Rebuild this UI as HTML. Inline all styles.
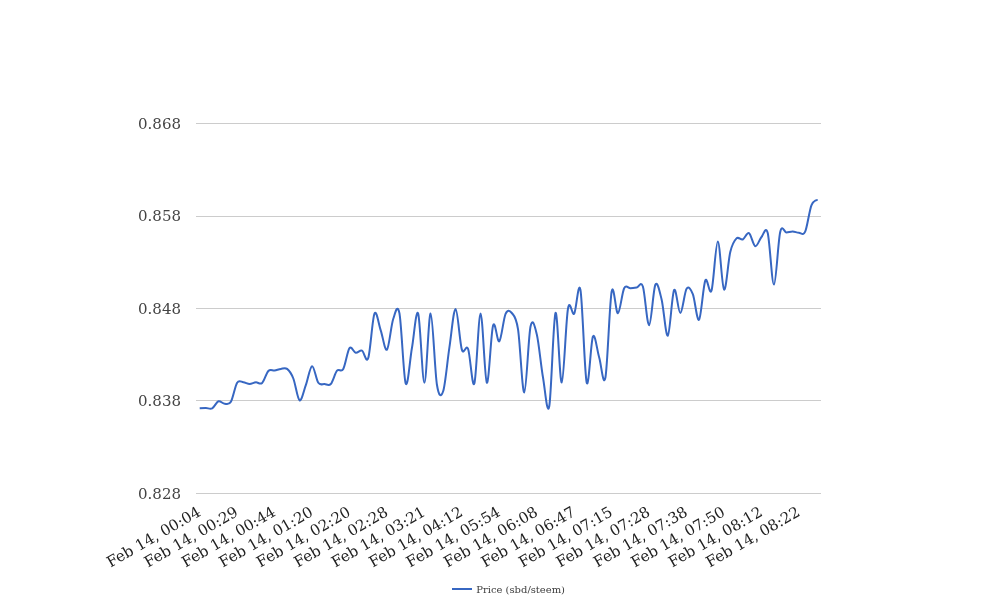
<!DOCTYPE html><html><head><meta charset="utf-8"><title>Price chart</title><style>html,body{margin:0;padding:0;background:#fff}svg{display:block}text{font-family:"DejaVu Serif","Liberation Serif",serif}</style></head><body>
<svg width="1008" height="616" viewBox="0 0 1008 616">
<rect width="1008" height="616" fill="#ffffff"/>
<rect x="196" y="123" width="625" height="1" fill="#cccccc"/>
<rect x="196" y="216" width="625" height="1" fill="#cccccc"/>
<rect x="196" y="308" width="625" height="1" fill="#cccccc"/>
<rect x="196" y="400" width="625" height="1" fill="#cccccc"/>
<rect x="196" y="493" width="625" height="1" fill="#cccccc"/>
<text x="181" y="129.25" text-anchor="end" font-size="15" fill="#444444">0.868</text>
<text x="181" y="221.25" text-anchor="end" font-size="15" fill="#444444">0.858</text>
<text x="181" y="314.25" text-anchor="end" font-size="15" fill="#444444">0.848</text>
<text x="181" y="406.25" text-anchor="end" font-size="15" fill="#444444">0.838</text>
<text x="181" y="499.25" text-anchor="end" font-size="15" fill="#444444">0.828</text>
<text x="201.72" y="515.0" text-anchor="end" font-size="15.1" fill="#222222" transform="rotate(-30 201.72 515.0)">Feb 14, 00:04</text>
<text x="239.18" y="515.0" text-anchor="end" font-size="15.1" fill="#222222" transform="rotate(-30 239.18 515.0)">Feb 14, 00:29</text>
<text x="276.63" y="515.0" text-anchor="end" font-size="15.1" fill="#222222" transform="rotate(-30 276.63 515.0)">Feb 14, 00:44</text>
<text x="314.08" y="515.0" text-anchor="end" font-size="15.1" fill="#222222" transform="rotate(-30 314.08 515.0)">Feb 14, 01:20</text>
<text x="351.53" y="515.0" text-anchor="end" font-size="15.1" fill="#222222" transform="rotate(-30 351.53 515.0)">Feb 14, 02:20</text>
<text x="388.98" y="515.0" text-anchor="end" font-size="15.1" fill="#222222" transform="rotate(-30 388.98 515.0)">Feb 14, 02:28</text>
<text x="426.44" y="515.0" text-anchor="end" font-size="15.1" fill="#222222" transform="rotate(-30 426.44 515.0)">Feb 14, 03:21</text>
<text x="463.89" y="515.0" text-anchor="end" font-size="15.1" fill="#222222" transform="rotate(-30 463.89 515.0)">Feb 14, 04:12</text>
<text x="501.34" y="515.0" text-anchor="end" font-size="15.1" fill="#222222" transform="rotate(-30 501.34 515.0)">Feb 14, 05:54</text>
<text x="538.79" y="515.0" text-anchor="end" font-size="15.1" fill="#222222" transform="rotate(-30 538.79 515.0)">Feb 14, 06:08</text>
<text x="576.25" y="515.0" text-anchor="end" font-size="15.1" fill="#222222" transform="rotate(-30 576.25 515.0)">Feb 14, 06:47</text>
<text x="613.70" y="515.0" text-anchor="end" font-size="15.1" fill="#222222" transform="rotate(-30 613.70 515.0)">Feb 14, 07:15</text>
<text x="651.15" y="515.0" text-anchor="end" font-size="15.1" fill="#222222" transform="rotate(-30 651.15 515.0)">Feb 14, 07:28</text>
<text x="688.60" y="515.0" text-anchor="end" font-size="15.1" fill="#222222" transform="rotate(-30 688.60 515.0)">Feb 14, 07:38</text>
<text x="726.05" y="515.0" text-anchor="end" font-size="15.1" fill="#222222" transform="rotate(-30 726.05 515.0)">Feb 14, 07:50</text>
<text x="763.50" y="515.0" text-anchor="end" font-size="15.1" fill="#222222" transform="rotate(-30 763.50 515.0)">Feb 14, 08:12</text>
<text x="800.96" y="515.0" text-anchor="end" font-size="15.1" fill="#222222" transform="rotate(-30 800.96 515.0)">Feb 14, 08:22</text>
<path d="M199.70,408.20C199.70,408.20,203.86,407.97,205.94,408.00C208.02,408.03,210.10,409.52,212.18,408.40C214.26,407.28,216.35,402.07,218.43,401.30C220.51,400.53,222.59,403.72,224.67,403.80C226.75,403.88,228.83,405.32,230.91,401.80C232.99,398.28,235.07,385.95,237.15,382.70C239.23,379.45,241.31,382.08,243.39,382.30C245.47,382.52,247.56,384.00,249.64,384.00C251.72,384.00,253.80,382.47,255.88,382.30C257.96,382.13,260.04,384.88,262.12,383.00C264.20,381.12,266.28,373.08,268.36,371.00C270.44,368.92,272.52,370.85,274.60,370.50C276.68,370.15,278.77,369.17,280.85,368.90C282.93,368.63,285.01,367.30,287.09,368.90C289.17,370.50,291.25,373.27,293.33,378.50C295.41,383.73,297.49,399.18,299.57,400.30C301.65,401.42,303.73,390.88,305.81,385.20C307.89,379.52,309.98,366.60,312.06,366.20C314.14,365.80,316.22,379.83,318.30,382.80C320.38,385.77,322.46,383.80,324.54,384.00C326.62,384.20,328.70,386.22,330.78,384.00C332.86,381.78,334.94,373.20,337.02,370.70C339.10,368.20,341.19,372.75,343.27,369.00C345.35,365.25,347.43,350.90,349.51,348.20C351.59,345.50,353.67,352.38,355.75,352.80C357.83,353.22,359.91,349.83,361.99,350.70C364.07,351.57,366.15,364.18,368.23,358.00C370.31,351.82,372.40,318.22,374.48,313.60C376.56,308.98,378.64,324.28,380.72,330.30C382.80,336.32,384.88,351.58,386.96,349.70C389.04,347.82,391.12,325.07,393.20,319.00C395.28,312.93,397.36,302.55,399.44,313.30C401.52,324.05,403.61,377.72,405.69,383.50C407.77,389.28,409.85,359.65,411.93,348.00C414.01,336.35,416.09,307.82,418.17,313.60C420.25,319.38,422.33,382.72,424.41,382.70C426.49,382.68,428.57,313.20,430.65,313.50C432.73,313.80,434.82,371.53,436.90,384.50C438.98,397.47,441.06,397.43,443.14,391.30C445.22,385.17,447.30,361.42,449.38,347.70C451.46,333.98,453.54,308.68,455.62,309.00C457.70,309.32,459.78,342.93,461.86,349.60C463.94,356.27,466.03,343.35,468.11,349.00C470.19,354.65,472.27,389.42,474.35,383.50C476.43,377.58,478.51,313.63,480.59,313.50C482.67,313.37,484.75,380.70,486.83,382.70C488.91,384.70,490.99,332.40,493.07,325.50C495.15,318.60,497.24,343.25,499.32,341.30C501.40,339.35,503.48,318.52,505.56,313.80C507.64,309.08,509.72,310.42,511.80,313.00C513.88,315.58,515.96,316.07,518.04,329.30C520.12,342.53,522.20,392.87,524.28,392.40C526.36,391.93,528.45,336.20,530.53,326.50C532.61,316.80,534.69,325.70,536.77,334.20C538.85,342.70,540.93,365.48,543.01,377.50C545.09,389.52,547.17,417.05,549.25,406.30C551.33,395.55,553.41,316.97,555.49,313.00C557.57,309.03,559.66,383.22,561.74,382.50C563.82,381.78,565.90,320.17,567.98,308.70C570.06,297.23,572.14,316.82,574.22,313.70C576.30,310.58,578.38,278.50,580.46,290.00C582.54,301.50,584.62,374.95,586.70,382.70C588.78,390.45,590.87,340.70,592.95,336.50C595.03,332.30,597.11,350.67,599.19,357.50C601.27,364.33,603.35,388.50,605.43,377.50C607.51,366.50,609.59,302.20,611.67,291.50C613.75,280.80,615.83,313.85,617.91,313.30C619.99,312.75,622.08,292.37,624.16,288.20C626.24,284.03,628.32,288.40,630.40,288.30C632.48,288.20,634.56,287.90,636.64,287.60C638.72,287.30,640.80,280.23,642.88,286.50C644.96,292.77,647.04,325.48,649.12,325.20C651.20,324.92,653.29,289.08,655.37,284.80C657.45,280.52,659.53,291.03,661.61,299.50C663.69,307.97,665.77,337.17,667.85,335.60C669.93,334.03,672.01,293.87,674.09,290.10C676.17,286.33,678.25,313.22,680.33,313.00C682.41,312.78,684.50,291.93,686.58,288.80C688.66,285.67,690.74,289.05,692.82,294.20C694.90,299.35,696.98,321.98,699.06,319.70C701.14,317.42,703.22,285.38,705.30,280.50C707.38,275.62,709.46,296.92,711.54,290.40C713.62,283.88,715.71,241.53,717.79,241.40C719.87,241.27,721.95,287.83,724.03,289.60C726.11,291.37,728.19,260.53,730.27,252.00C732.35,243.47,734.43,240.48,736.51,238.40C738.59,236.32,740.67,240.37,742.75,239.50C744.83,238.63,746.92,232.08,749.00,233.20C751.08,234.32,753.16,245.57,755.24,246.20C757.32,246.83,759.40,239.20,761.48,237.00C763.56,234.80,765.64,225.07,767.72,233.00C769.80,240.93,771.88,284.77,773.96,284.60C776.04,284.43,778.13,240.68,780.21,232.00C782.29,223.32,784.37,232.58,786.45,232.50C788.53,232.42,790.61,231.45,792.69,231.50C794.77,231.55,796.85,232.77,798.93,232.80C801.01,232.83,803.09,236.28,805.17,231.70C807.25,227.12,809.34,210.58,811.42,205.30C813.50,200.02,817.66,200.00,817.66,200.00" fill="none" stroke="#3767c2" stroke-width="2" stroke-linejoin="round" stroke-linecap="butt"/>
<rect x="452" y="588" width="20" height="2" fill="#3767c2"/>
<text x="476.3" y="592.6" font-size="9.97" fill="#3c3c3c">Price (sbd/steem)</text>
</svg></body></html>
